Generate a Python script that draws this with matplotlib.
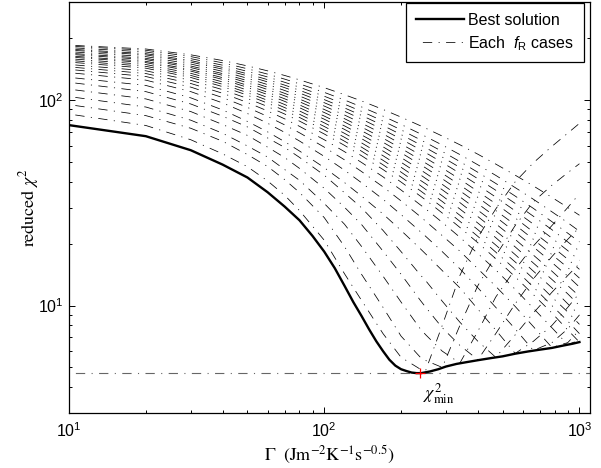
import matplotlib
matplotlib.use('Agg')
import matplotlib.pyplot as plt
from matplotlib.lines import Line2D
from matplotlib.ticker import NullFormatter

# ---------------- data ----------------
gamma_grid = [10, 20, 30, 40, 50, 60, 70, 80, 100, 120, 140, 170, 200, 238,
              250, 290, 340, 400, 470, 560, 660, 780, 900, 1000]

case_01 = [85.5, 75.2, 64.1, 54.7, 47.4, 40.4, 34.4, 29.0, 20.8, 14.3, 10.6, 7.3, 5.6, 4.9, 4.85, 8.0, 14.0, 21.5, 29.5, 40.0, 49.5, 59.5, 69.0, 77.0]
case_02 = [95, 84.0, 72.9, 63.0, 54.3, 47.5, 41.0, 35.5, 26.8, 19.4, 14.2, 9.8, 7.1, 5.6, 5.4, 5.0, 8.0, 12.5, 17.5, 24.5, 32.0, 38.5, 44.3, 49.0]
case_03 = [104, 92.5, 79.8, 68.9, 59.8, 52.8, 45.9, 40.7, 31.4, 24.9, 19.4, 13.9, 10.4, 7.7, 7.2, 6.0, 5.25, 7.5, 11.0, 15.0, 19.5, 24.5, 30.0, 35.0]
case_04 = [113, 101.3, 87.9, 76.0, 67.3, 59.0, 52.5, 46.5, 37.2, 30.1, 24.8, 18.4, 14.2, 10.6, 9.8, 7.8, 6.4, 5.45, 7.3, 10.2, 13.5, 17.3, 21.0, 24.0]
case_05 = [122, 109.9, 95.7, 83.4, 74.0, 65.4, 58.8, 52.6, 43.1, 35.4, 29.9, 23.2, 18.3, 14.1, 13.2, 10.5, 8.3, 6.7, 5.6, 7.2, 9.2, 11.6, 14.0, 16.0]
case_06 = [129, 117.8, 102.5, 89.5, 78.7, 70.0, 62.7, 56.5, 46.9, 39.7, 34.1, 27.9, 23.2, 18.9, 17.8, 14.8, 12.2, 9.6, 7.6, 5.85, 6.7, 8.0, 9.8, 11.5]
case_07 = [136, 125.0, 109.9, 96.8, 86.0, 77.1, 69.6, 63.2, 53.2, 45.6, 39.6, 32.9, 27.7, 22.9, 21.7, 18.3, 15.1, 12.2, 9.8, 7.7, 6.05, 6.6, 7.7, 9.0]
case_08 = [141, 130.2, 115.6, 102.8, 92.1, 83.2, 75.7, 69.3, 59.0, 51.2, 44.9, 37.8, 32.3, 27.1, 25.7, 21.9, 18.4, 15.1, 12.4, 9.9, 7.9, 6.25, 6.6, 7.6]
case_09 = [145, 134.6, 120.4, 107.9, 97.3, 88.5, 81.0, 74.5, 64.1, 56.1, 49.7, 42.3, 36.5, 30.9, 29.5, 25.4, 21.5, 17.9, 14.9, 12.0, 9.7, 7.8, 6.45, 6.8]
case_10 = [149, 138.8, 124.7, 112.3, 101.8, 93.0, 85.5, 79.0, 68.4, 60.2, 53.6, 45.9, 39.9, 34.1, 32.6, 28.2, 24.0, 20.2, 16.9, 13.8, 11.3, 9.2, 7.6, 6.64]
case_11 = [153, 142.9, 128.8, 116.2, 105.6, 96.6, 88.9, 82.3, 71.5, 63.1, 56.4, 48.4, 42.2, 36.2, 34.6, 30.1, 25.7, 21.7, 18.2, 15.0, 12.3, 10.0, 8.4, 7.3]
case_12 = [156, 145.9, 131.8, 119.3, 108.6, 99.7, 91.9, 85.3, 74.4, 65.9, 59.0, 50.9, 44.6, 38.4, 36.7, 32.1, 27.5, 23.4, 19.7, 16.3, 13.5, 11.0, 9.3, 8.1]
case_13 = [159, 148.9, 134.9, 122.5, 111.8, 102.9, 95.1, 88.5, 77.5, 68.9, 61.9, 53.6, 47.1, 40.7, 39.1, 34.2, 29.5, 25.2, 21.4, 17.7, 14.7, 12.2, 10.2, 9.0]
case_14 = [162, 152.1, 138.3, 125.9, 115.3, 106.3, 98.5, 91.8, 80.7, 72.0, 64.9, 56.5, 49.8, 43.3, 41.5, 36.6, 31.7, 27.1, 23.1, 19.3, 16.1, 13.4, 11.4, 10.0]
case_15 = [164, 154.3, 140.7, 128.5, 118.0, 109.1, 101.4, 94.7, 83.6, 74.9, 67.7, 59.2, 52.5, 45.8, 44.0, 38.9, 33.8, 29.1, 25.0, 21.0, 17.6, 14.7, 12.5, 11.1]
case_16 = [167, 157.4, 143.9, 131.9, 121.4, 112.5, 104.8, 98.1, 87.0, 78.2, 70.9, 62.3, 55.4, 48.5, 46.7, 41.4, 36.2, 31.3, 27.0, 22.8, 19.3, 16.2, 13.9, 12.3]
case_17 = [169, 159.7, 146.4, 134.5, 124.3, 115.5, 107.8, 101.1, 90.0, 81.2, 73.9, 65.2, 58.2, 51.2, 49.3, 44.0, 38.6, 33.6, 29.0, 24.7, 21.0, 17.7, 15.3, 13.6]
case_18 = [172, 162.7, 149.7, 137.9, 127.6, 118.9, 111.3, 104.6, 93.5, 84.6, 77.2, 68.4, 61.2, 54.1, 52.2, 46.7, 41.2, 35.9, 31.3, 26.7, 22.8, 19.4, 16.8, 15.0]
case_19 = [175, 165.9, 153.0, 141.3, 131.2, 122.5, 114.9, 108.2, 97.1, 88.2, 80.8, 71.8, 64.6, 57.3, 55.4, 49.7, 44.0, 38.6, 33.7, 28.9, 24.9, 21.3, 18.5, 16.6]
case_20 = [177, 168.2, 155.6, 144.2, 134.2, 125.7, 118.2, 111.6, 100.5, 91.6, 84.2, 75.2, 67.9, 60.6, 58.6, 52.8, 47.0, 41.4, 36.4, 31.4, 27.2, 23.4, 20.4, 18.4]
case_21 = [180, 171.4, 159.0, 147.8, 137.9, 129.5, 122.0, 115.5, 104.4, 95.5, 88.1, 79.0, 71.6, 64.1, 62.1, 56.2, 50.2, 44.5, 39.3, 34.1, 29.7, 25.6, 22.5, 20.4]
case_22 = [183, 174.7, 162.7, 151.7, 142.0, 133.7, 126.4, 119.9, 109.0, 100.1, 92.6, 83.5, 76.1, 68.5, 66.4, 60.4, 54.3, 48.4, 43.0, 37.5, 32.9, 28.6, 25.3, 23.0]
case_23 = [185, 177.2, 166.0, 155.7, 146.6, 138.7, 131.7, 125.4, 114.9, 106.2, 99.0, 90.0, 82.6, 75.0, 72.9, 66.8, 60.6, 54.5, 48.8, 43.1, 38.2, 33.6, 30.0, 27.5]

cases = [case_01, case_02, case_03, case_04, case_05, case_06, case_07, case_08,
         case_09, case_10, case_11, case_12, case_13, case_14, case_15, case_16,
         case_17, case_18, case_19, case_20, case_21, case_22, case_23]

best_gamma = [10, 20, 30, 40, 50, 60, 70, 80, 90, 100, 110, 120, 130, 140, 150,
              160, 170, 180, 190, 200, 210, 220, 230, 240, 260, 280, 300, 330,
              360, 400, 450, 500, 560, 630, 700, 780, 860, 940, 1000]
best_chi2 = [75.5, 66.7, 57.0, 48.5, 42.0, 35.6, 30.3, 26.0, 21.8, 18.3, 15.2,
             12.5, 10.4, 8.9, 7.65, 6.7, 6.0, 5.45, 5.1, 4.9, 4.8, 4.72, 4.69,
             4.69, 4.78, 4.9, 5.05, 5.2, 5.3, 5.42, 5.55, 5.66, 5.83, 5.98,
             6.1, 6.22, 6.38, 6.52, 6.64]

gamma_min = 238
chi2_min = 4.69

legend_labels = ['Best solution', r'Each  $f_{\mathrm{R}}$ cases']
x_label = r'$\Gamma\ \ (\mathrm{Jm^{-2}K^{-1}s^{-0.5}})$'
y_label = r'$\mathrm{reduced}\ \chi^2$'
min_label = r'$\chi^2_{\mathrm{min}}$'

# ---------------- style ----------------
plt.rcParams['font.family'] = ['Liberation Sans', 'DejaVu Sans']
plt.rcParams['mathtext.fontset'] = 'custom'
plt.rcParams['mathtext.rm'] = 'Liberation Sans'
plt.rcParams['mathtext.it'] = 'Liberation Sans:italic'
plt.rcParams['mathtext.bf'] = 'Liberation Sans:bold'
plt.rcParams['lines.scale_dashes'] = False

DASHDOT = (12.1, (6.7, 4.6, 0.8, 4.6))

fig = plt.figure(figsize=(6.01, 4.68), dpi=100)
ax = fig.add_axes([69 / 601, 1 - 413 / 468, 521 / 601, 411 / 468])

for c in cases:
    ax.plot(gamma_grid, c, color='k', lw=0.55, linestyle=DASHDOT)

ax.axhline(chi2_min, color='0.4', lw=0.8, linestyle=DASHDOT)
ax.plot(best_gamma, best_chi2, color='k', lw=1.7, solid_joinstyle='round')
ax.plot([gamma_min], [chi2_min], marker='+', color='red', ms=7, mew=0.9)
ax.text(282, 3.72, min_label, math_fontfamily='stix', fontsize=13,
        ha='center', va='center')

ax.set_xscale('log')
ax.set_yscale('log')
ax.set_xlim(10, 1100)
ax.set_ylim(3, 300)

ax.tick_params(which='both', direction='in', top=True, right=True,
               labelsize=11.5, width=0.7)
ax.tick_params(which='major', length=4.5)
ax.tick_params(axis='x', which='major', pad=6)
ax.tick_params(axis='y', which='major', pad=4)
ax.tick_params(which='minor', length=2.5)
ax.xaxis.set_minor_formatter(NullFormatter())
ax.yaxis.set_minor_formatter(NullFormatter())
for s in ax.spines.values():
    s.set_linewidth(0.9)

ax.set_xlabel(x_label, math_fontfamily='stix', fontsize=13, labelpad=3)
ax.set_ylabel(y_label, math_fontfamily='stix', fontsize=13, labelpad=-2)

handles = [Line2D([], [], color='k', lw=1.7),
           Line2D([], [], color='k', lw=0.55, linestyle=DASHDOT)]
leg = ax.legend(handles, legend_labels, loc='upper right',
                bbox_to_anchor=((584 - 69) / 521, 1 - 1 / 411),
                borderaxespad=0, fontsize=11.5, frameon=True, fancybox=False,
                edgecolor='k', framealpha=1, handlelength=3.0,
                handletextpad=0.3, borderpad=0.6, labelspacing=0.4)
leg.get_frame().set_linewidth(0.9)

fig.savefig('out.png', dpi=100)
